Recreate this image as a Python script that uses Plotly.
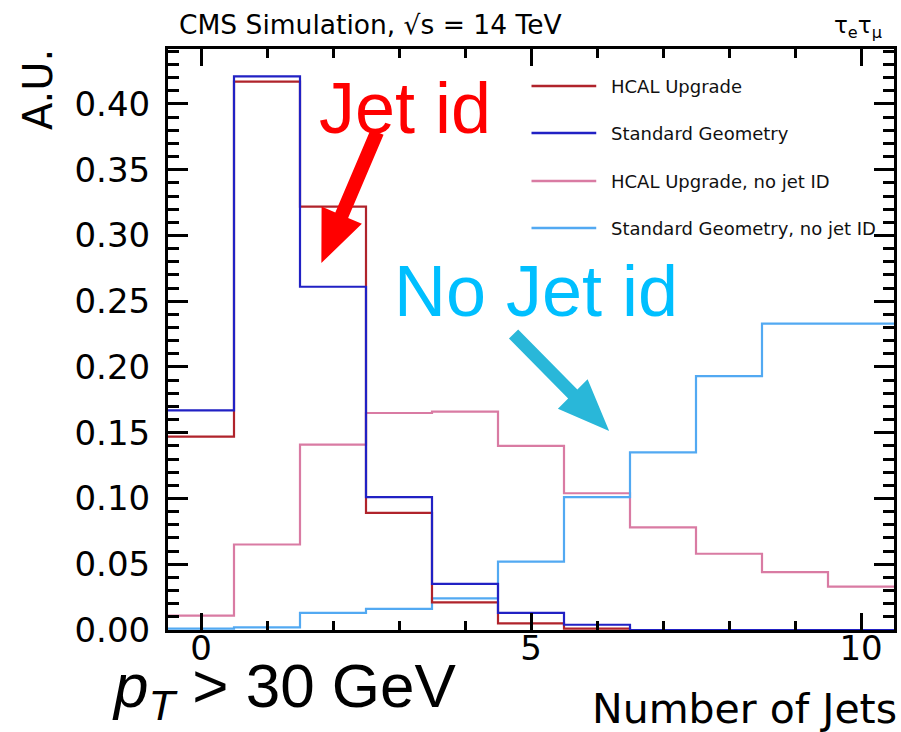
import plotly.graph_objects as go

# ---- data: normalised jet multiplicity, one value per bin (bin centres 0..10)
n_jets = [0, 1, 2, 3, 4, 5, 6, 7, 8, 9, 10]
hcal_upgrade = [0.147, 0.417, 0.322, 0.089, 0.021, 0.005, 0.001, 0.0, 0.0, 0.0, 0.0]
standard_geom = [0.167, 0.421, 0.261, 0.101, 0.035, 0.013, 0.004, 0.0, 0.0, 0.0, 0.0]
hcal_upgrade_nojetid = [0.011, 0.065, 0.141, 0.165, 0.166, 0.140, 0.104, 0.078, 0.058, 0.044, 0.033]
standard_geom_nojetid = [0.001, 0.002, 0.013, 0.016, 0.024, 0.052, 0.101, 0.135, 0.193, 0.233, 0.233]

series = [
    ("HCAL Upgrade, no jet ID", hcal_upgrade_nojetid, "#D97BA3"),
    ("Standard Geometry, no jet ID", standard_geom_nojetid, "#52A9F2"),
    ("HCAL Upgrade", hcal_upgrade, "#B0232B"),
    ("Standard Geometry", standard_geom, "#2121C4"),
]
legend_order = ["HCAL Upgrade", "Standard Geometry",
                "HCAL Upgrade, no jet ID", "Standard Geometry, no jet ID"]

# ---- canvas geometry
W, H = 901, 732
L, R, T, B = 168, 4, 49, 102
PW, PH = W - L - R, H - T - B


def fx(px):
    return (px - L) / PW


def fy(py):
    return (T + PH - py) / PH


ROOT_FONT = "DejaVu Sans"
NOTE_FONT = "Liberation Sans, Arial, sans-serif"

fig = go.Figure()

# step histograms drawn from the bin contents
for name, vals, col in series:
    edges = [c - 0.5 for c in n_jets] + [n_jets[-1] + 0.5]
    fig.add_trace(go.Scatter(
        x=edges, y=list(vals) + [vals[-1]], mode="lines", name=name,
        line=dict(color=col, width=2.2, shape="hv"), showlegend=False,
        cliponaxis=False,
    ))

axis_common = dict(
    showline=True, linecolor="black", linewidth=3, mirror="ticks",
    ticks="inside", tickwidth=3, tickcolor="black", showgrid=False,
    zeroline=False,
    tickfont=dict(family=ROOT_FONT, size=34, color="black"),
)

fig.update_xaxes(
    range=[-0.5, 10.5], tick0=0, dtick=5, ticklen=17,
    minor=dict(dtick=1, ticks="inside", ticklen=9, tickwidth=3, tickcolor="black"),
    ticklabelstandoff=-14,
    **axis_common,
)
fig.update_yaxes(
    range=[0, 0.4418], tick0=0, dtick=0.05, ticklen=20, tickformat=".2f",
    minor=dict(dtick=0.01, ticks="inside", ticklen=11, tickwidth=3, tickcolor="black"),
    ticklabelstandoff=8,
    **axis_common,
)

# legend drawn inside the frame
shapes = []
annotations = []
leg_y = [86, 133, 181, 228]
colors = {n: c for n, _, c in series}
for name, py in zip(legend_order, leg_y):
    shapes.append(dict(type="line", xref="paper", yref="paper",
                       x0=fx(533), x1=fx(598), y0=fy(py), y1=fy(py),
                       line=dict(color=colors[name], width=2.5)))
    annotations.append(dict(xref="paper", yref="paper", x=fx(611), y=fy(py),
                            xanchor="left", yanchor="middle", showarrow=False,
                            text=name, font=dict(family=ROOT_FONT, size=18, color="#111")))


def arrow_path(tail, tip, shaft_w, head_len, head_w):
    (x0, y0), (x1, y1) = tail, tip
    dx, dy = x1 - x0, y1 - y0
    n = (dx * dx + dy * dy) ** 0.5
    ux, uy = dx / n, dy / n
    px_, py_ = -uy, ux
    bx, by = x1 - ux * head_len, y1 - uy * head_len
    pts = [
        (x0 + px_ * shaft_w / 2, y0 + py_ * shaft_w / 2),
        (bx + px_ * shaft_w / 2, by + py_ * shaft_w / 2),
        (bx + px_ * head_w / 2, by + py_ * head_w / 2),
        (x1, y1),
        (bx - px_ * head_w / 2, by - py_ * head_w / 2),
        (bx - px_ * shaft_w / 2, by - py_ * shaft_w / 2),
        (x0 - px_ * shaft_w / 2, y0 - py_ * shaft_w / 2),
    ]
    return "M" + " L".join(f"{fx(a):.5f},{fy(b):.5f}" for a, b in pts) + " Z"


shapes.append(dict(type="path", xref="paper", yref="paper",
                   path=arrow_path((378, 132), (322, 263), 14, 52, 44),
                   fillcolor="#FF0000", line=dict(width=0)))
shapes.append(dict(type="path", xref="paper", yref="paper",
                   path=arrow_path((515, 334), (611, 431), 13, 52, 42),
                   fillcolor="#29B7D9", line=dict(width=0)))

annotations += [
    dict(xref="paper", yref="paper", x=fx(177), y=fy(25), xanchor="left",
         yanchor="middle", showarrow=False,
         text="CMS Simulation, √s = 14 TeV",
         font=dict(family=ROOT_FONT, size=26.5, color="black")),
    dict(xref="paper", yref="paper", x=fx(887), y=fy(27), xanchor="right",
         yanchor="middle", showarrow=False,
         text="τ<sub>e</sub>τ<sub>μ</sub>",
         font=dict(family=ROOT_FONT, size=23, color="black")),
    dict(xref="paper", yref="paper", x=fx(37), y=fy(47), xanchor="center",
         yanchor="top", showarrow=False, textangle=-90, text="A.U.",
         font=dict(family=ROOT_FONT, size=40, color="black")),
    dict(xref="paper", yref="paper", x=fx(902), y=fy(709), xanchor="right",
         yanchor="middle", showarrow=False, text="Number of Jets",
         font=dict(family=ROOT_FONT, size=41, color="black")),
    dict(xref="paper", yref="paper", x=fx(110), y=fy(731), xanchor="left",
         yanchor="bottom", showarrow=False,
         text="<i>p</i><sub><i>T</i></sub> > 30 GeV",
         font=dict(family=NOTE_FONT, size=62, color="black")),
    dict(xref="paper", yref="paper", x=fx(406), y=fy(108), xanchor="center",
         yanchor="middle", showarrow=False, text="Jet id",
         font=dict(family=NOTE_FONT, size=72, color="#FF0000")),
    dict(xref="paper", yref="paper", x=fx(538), y=fy(291), xanchor="center",
         yanchor="middle", showarrow=False, text="No Jet id",
         font=dict(family=NOTE_FONT, size=72, color="#00BFFF")),
]

fig.update_layout(
    width=W, height=H,
    margin=dict(l=L, r=R, t=T, b=B),
    paper_bgcolor="white", plot_bgcolor="white",
    shapes=shapes, annotations=annotations, showlegend=False,
)

fig.write_html("out.html")
